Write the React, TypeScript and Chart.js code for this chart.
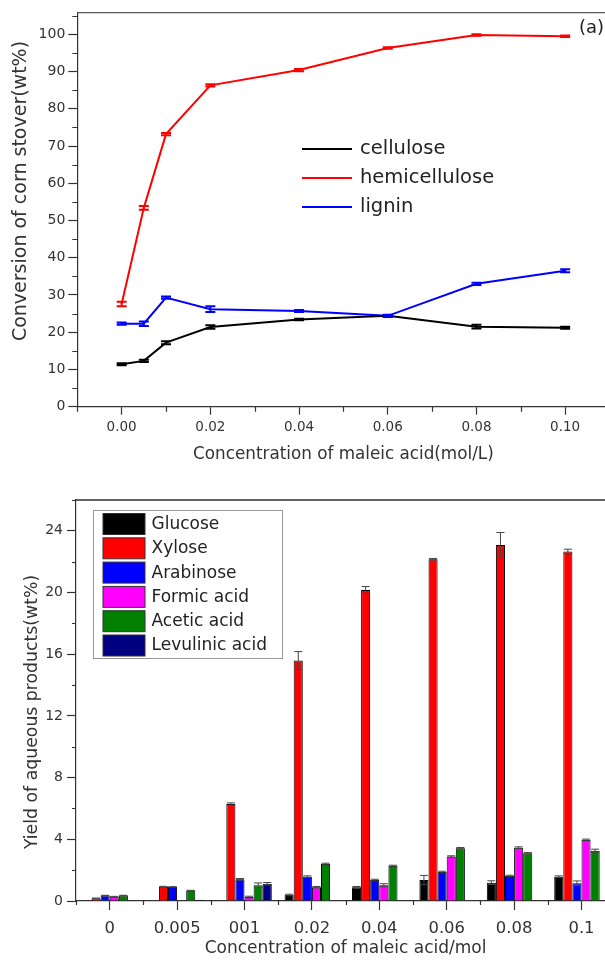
import React, { useEffect, useRef } from 'react';
import { Chart, registerables } from 'chart.js';

Chart.register(...registerables);

// ---------- Top chart data (a) ----------
const concentrations = [0, 0.005, 0.01, 0.02, 0.04, 0.06, 0.08, 0.1];
const cellulose = [11.4, 12.3, 17.2, 21.4, 23.4, 24.4, 21.5, 21.2];
const celluloseErr = [0.3, 0.3, 0.4, 0.5, 0.2, 0.2, 0.5, 0.3];
const hemicellulose = [27.6, 53.4, 73.2, 86.3, 90.4, 96.3, 99.8, 99.5];
const hemicelluloseErr = [0.6, 0.5, 0.3, 0.3, 0.3, 0.2, 0.2, 0.2];
const lignin = [22.3, 22.3, 29.3, 26.2, 25.7, 24.4, 33.0, 36.5];
const ligninErr = [0.3, 0.6, 0.3, 0.8, 0.3, 0.3, 0.3, 0.4];
const topSeriesNames = ['cellulose', 'hemicellulose', 'lignin'];
const topXTicks = [0, 0.02, 0.04, 0.06, 0.08, 0.1];
const topXMinor = [-0.01, 0.01, 0.03, 0.05, 0.07, 0.09, 0.11];
const topYTicks = [0, 10, 20, 30, 40, 50, 60, 70, 80, 90, 100];
const topYMinor = [5, 15, 25, 35, 45, 55, 65, 75, 85, 95, 105];
const topYTitle = 'Conversion of corn stover(wt%)';
const topXTitle = 'Concentration of maleic acid(mol/L)';

// ---------- Bottom chart data ----------
const categories = ['0', '0.005', '001', '0.02', '0.04', '0.06', '0.08', '0.1'];
const productNames = ['Glucose', 'Xylose', 'Arabinose', 'Formic acid', 'Acetic acid', 'Levulinic acid'];
const glucose = [0, 0, 0, 0.39, 0.89, 1.36, 1.19, 1.58];
const xylose = [0.17, 0.93, 6.29, 15.59, 20.17, 22.16, 23.09, 22.66];
const arabinose = [0.35, 0.91, 1.41, 1.58, 1.36, 1.88, 1.62, 1.15];
const formicAcid = [0.28, 0, 0.26, 0.89, 1.02, 2.88, 3.46, 3.96];
const aceticAcid = [0.35, 0.67, 1.02, 2.4, 2.27, 3.42, 3.09, 3.26];
const levulinicAcid = [0, 0.08, 1.12, 0, 0, 0, 0, 0];
const glucoseErr = [0, 0, 0, 0.05, 0.05, 0.3, 0.12, 0.05];
const xyloseErr = [0.02, 0.02, 0.07, 0.58, 0.22, 0.05, 0.8, 0.15];
const arabinoseErr = [0.02, 0.02, 0.05, 0.05, 0.05, 0.05, 0.05, 0.15];
const formicErr = [0.02, 0, 0.05, 0.05, 0.1, 0.05, 0.05, 0.05];
const aceticErr = [0.02, 0.02, 0.15, 0.05, 0.05, 0.05, 0.05, 0.1];
const levulinicErr = [0, 0, 0.08, 0, 0, 0, 0, 0];
const bottomYTicks = [0, 4, 8, 12, 16, 20, 24];
const bottomYMinor = [2, 6, 10, 14, 18, 22, 26];
const bottomYTitle = 'Yield of aqueous products(wt%)';
const bottomXTitle = 'Concentration of maleic acid/mol';

const FONT = "'DejaVu Sans', sans-serif";
const AXIS = '#333333';
const TEXT = '#333333';

const topColors = ['#000000', '#ff0000', '#0000ff'];
const productColors = ['#000000', '#ff0000', '#0000ff', '#ff00ff', '#008000', '#000080'];

function drawMinorTicks(ctx: CanvasRenderingContext2D, chart: any, xVals: number[] | null, yVals: number[], len: number, categoryBoundaries: boolean) {
  const xs = chart.scales.x;
  const ys = chart.scales.y;
  const area = chart.chartArea;
  ctx.save();
  ctx.strokeStyle = AXIS;
  ctx.lineWidth = 1.2;
  ctx.beginPath();
  yVals.forEach((v) => {
    const py = Math.round(ys.getPixelForValue(v)) + 0.5;
    ctx.moveTo(area.left, py);
    ctx.lineTo(area.left - len, py);
  });
  const xv: number[] = [];
  if (categoryBoundaries) {
    for (let i = 0; i <= categories.length; i++) xv.push(xs.getPixelForValue(i - 0.5));
  } else if (xVals) {
    xVals.forEach((v) => xv.push(xs.getPixelForValue(v)));
  }
  xv.forEach((px) => {
    const p = Math.round(px) + 0.5;
    ctx.moveTo(p, area.bottom);
    ctx.lineTo(p, area.bottom + len);
  });
  ctx.stroke();
  ctx.restore();
}

function drawVerticalTitle(ctx: CanvasRenderingContext2D, text: string, cx: number, cy: number, size: number) {
  ctx.save();
  ctx.translate(cx, cy);
  ctx.rotate(-Math.PI / 2);
  ctx.font = `${size}px ${FONT}`;
  ctx.fillStyle = TEXT;
  ctx.textAlign = 'center';
  ctx.textBaseline = 'middle';
  ctx.fillText(text, 0, 0);
  ctx.restore();
}

export default function App() {
  const topRef = useRef<HTMLCanvasElement>(null);
  const botRef = useRef<HTMLCanvasElement>(null);

  useEffect(() => {
    const topValues = [cellulose, hemicellulose, lignin];
    const topErrs = [celluloseErr, hemicelluloseErr, ligninErr];

    const topPlugin = {
      id: 'topExtras',
      afterDatasetsDraw(chart: any) {
        const ctx: CanvasRenderingContext2D = chart.ctx;
        const xs = chart.scales.x;
        const ys = chart.scales.y;
        const area = chart.chartArea;
        // error bars
        topValues.forEach((vals, i) => {
          ctx.save();
          ctx.strokeStyle = topColors[i];
          ctx.lineWidth = 2;
          ctx.beginPath();
          vals.forEach((v, j) => {
            const e = topErrs[i][j];
            const px = xs.getPixelForValue(concentrations[j]);
            const y1 = ys.getPixelForValue(v + e);
            const y2 = ys.getPixelForValue(v - e);
            ctx.moveTo(px, y1);
            ctx.lineTo(px, y2);
            ctx.moveTo(px - 5, y1);
            ctx.lineTo(px + 5, y1);
            ctx.moveTo(px - 5, y2);
            ctx.lineTo(px + 5, y2);
          });
          ctx.stroke();
          ctx.restore();
        });
        // frame (top and right)
        ctx.save();
        ctx.strokeStyle = '#555555';
        ctx.lineWidth = 1.2;
        ctx.beginPath();
        ctx.moveTo(area.left, area.top);
        ctx.lineTo(area.right, area.top);
        ctx.lineTo(area.right, area.bottom);
        ctx.stroke();
        ctx.restore();
        drawMinorTicks(ctx, chart, topXMinor, topYMinor, 5, false);
        drawVerticalTitle(ctx, topYTitle, 21, 191, 19);
        // legend
        ctx.save();
        ctx.font = `19.5px ${FONT}`;
        ctx.textBaseline = 'middle';
        ctx.textAlign = 'left';
        const ly = [149, 178, 207];
        topSeriesNames.forEach((name, i) => {
          ctx.strokeStyle = topColors[i];
          ctx.lineWidth = 2;
          ctx.beginPath();
          ctx.moveTo(302, ly[i]);
          ctx.lineTo(352, ly[i]);
          ctx.stroke();
          ctx.fillStyle = '#222222';
          ctx.fillText(name, 360, ly[i]);
        });
        ctx.font = `18px ${FONT}`;
        ctx.fillText('(a)', 579, 28);
        ctx.restore();
      },
    };

    const c1 = new Chart(topRef.current as HTMLCanvasElement, {
      type: 'line',
      data: {
        datasets: topSeriesNames.map((name, i) => ({
          label: name,
          data: concentrations.map((x, j) => ({ x, y: topValues[i][j] })),
          borderColor: topColors[i],
          backgroundColor: topColors[i],
          borderWidth: 2,
          pointRadius: 0,
          tension: 0,
          fill: false,
        })),
      },
      options: {
        animation: false,
        responsive: false,
        devicePixelRatio: 1,
        layout: { padding: { left: 0, top: 12.7, right: 30.5, bottom: 0 } },
        plugins: { legend: { display: false }, tooltip: { enabled: false } },
        scales: {
          x: {
            type: 'linear',
            min: -0.01,
            max: 0.11,
            afterFit: (s: any) => { s.height = 63.3; },
            afterBuildTicks: (s: any) => { s.ticks = topXTicks.map((v) => ({ value: v })); },
            grid: { drawOnChartArea: false, drawTicks: true, tickLength: 8, tickColor: AXIS, tickWidth: 1.2 },
            border: { color: AXIS, width: 1.2 },
            ticks: {
              font: { family: FONT, size: 13.5 },
              color: TEXT,
              padding: 5,
              maxRotation: 0,
              autoSkip: false,
              callback: (v: any) => Number(v).toFixed(2),
            },
            title: {
              display: true,
              text: topXTitle,
              font: { family: FONT, size: 16.8 },
              color: TEXT,
              padding: { top: 0, bottom: 5 },
            },
          },
          y: {
            min: 0,
            max: 105.8,
            afterFit: (s: any) => { s.width = 77.3; },
            afterBuildTicks: (s: any) => { s.ticks = topYTicks.map((v) => ({ value: v })); },
            grid: { drawOnChartArea: false, drawTicks: true, tickLength: 9, tickColor: AXIS, tickWidth: 1.2 },
            border: { color: AXIS, width: 1.2 },
            ticks: { font: { family: FONT, size: 14 }, color: TEXT, padding: 3 },
            title: { display: false, text: topYTitle },
          },
        },
      },
      plugins: [topPlugin],
    } as any);

    const productValues = [glucose, xylose, arabinose, formicAcid, aceticAcid, levulinicAcid];
    const productErrs = [glucoseErr, xyloseErr, arabinoseErr, formicErr, aceticErr, levulinicErr];

    const botPlugin = {
      id: 'bottomExtras',
      afterDatasetsDraw(chart: any) {
        const ctx: CanvasRenderingContext2D = chart.ctx;
        const ys = chart.scales.y;
        const area = chart.chartArea;
        // error bars
        ctx.save();
        ctx.strokeStyle = '#444444';
        ctx.lineWidth = 1;
        ctx.beginPath();
        productValues.forEach((vals, i) => {
          const meta = chart.getDatasetMeta(i);
          vals.forEach((v, j) => {
            const e = productErrs[i][j];
            if (!e || !v) return;
            const px = meta.data[j].x;
            const y1 = ys.getPixelForValue(v + e);
            const y2 = ys.getPixelForValue(v - e);
            ctx.moveTo(px, y1);
            ctx.lineTo(px, y2);
            ctx.moveTo(px - 4, y1);
            ctx.lineTo(px + 4, y1);
            ctx.moveTo(px - 4, y2);
            ctx.lineTo(px + 4, y2);
          });
        });
        ctx.stroke();
        ctx.restore();
        // frame
        ctx.save();
        ctx.strokeStyle = '#333333';
        ctx.lineWidth = 1.5;
        ctx.beginPath();
        ctx.moveTo(area.left, area.top);
        ctx.lineTo(area.right, area.top);
        ctx.lineTo(area.right, area.bottom);
        ctx.stroke();
        ctx.restore();
        drawMinorTicks(ctx, chart, null, bottomYMinor, 4, true);
        drawVerticalTitle(ctx, bottomYTitle, 33, 242, 17.3);
        // legend
        ctx.save();
        ctx.fillStyle = '#ffffff';
        ctx.fillRect(93.5, 40.5, 189, 148);
        ctx.strokeStyle = '#999999';
        ctx.lineWidth = 1;
        ctx.strokeRect(93.5, 40.5, 189, 148);
        ctx.font = `17px ${FONT}`;
        ctx.textBaseline = 'middle';
        ctx.textAlign = 'left';
        productNames.forEach((name, i) => {
          const top = 43.5 + i * 24.3;
          ctx.fillStyle = productColors[i];
          ctx.fillRect(103, top, 42, 21);
          ctx.strokeStyle = '#333333';
          ctx.strokeRect(103, top, 42, 21);
          ctx.fillStyle = '#222222';
          ctx.fillText(name, 151.5, top + 11);
        });
        ctx.restore();
      },
    };

    const c2 = new Chart(botRef.current as HTMLCanvasElement, {
      type: 'bar',
      data: {
        labels: categories,
        datasets: productNames.map((name, i) => ({
          label: name,
          data: productValues[i],
          backgroundColor: productColors[i],
          borderColor: '#000000',
          borderWidth: 1,
          categoryPercentage: 0.81,
          barPercentage: 1.0,
        })),
      },
      options: {
        animation: false,
        responsive: false,
        devicePixelRatio: 1,
        layout: { padding: { left: 0, top: 30, right: 24.8, bottom: 0 } },
        plugins: { legend: { display: false }, tooltip: { enabled: false } },
        scales: {
          x: {
            type: 'category',
            offset: true,
            afterFit: (s: any) => { s.height = 60; },
            grid: { offset: false, drawOnChartArea: false, drawTicks: true, tickLength: 9, tickColor: AXIS, tickWidth: 1.2 },
            border: { color: AXIS, width: 1.2 },
            ticks: { font: { family: FONT, size: 16.4 }, color: TEXT, padding: 9, maxRotation: 0, autoSkip: false },
            title: {
              display: true,
              text: bottomXTitle,
              font: { family: FONT, size: 17 },
              color: TEXT,
              padding: { top: 0, bottom: 2 },
            },
          },
          y: {
            min: 0,
            max: 26,
            afterFit: (s: any) => { s.width = 76; },
            afterBuildTicks: (s: any) => { s.ticks = bottomYTicks.map((v) => ({ value: v })); },
            grid: { drawOnChartArea: false, drawTicks: true, tickLength: 9, tickColor: AXIS, tickWidth: 1.2 },
            border: { color: AXIS, width: 1.2 },
            ticks: { font: { family: FONT, size: 14 }, color: TEXT, padding: 4 },
            title: { display: false, text: bottomYTitle },
          },
        },
      },
      plugins: [botPlugin],
    } as any);

    return () => {
      c1.destroy();
      c2.destroy();
    };
  }, []);

  return (
    <div style={{ position: 'fixed', left: 0, top: 0, width: 605, height: 961, overflow: 'hidden', background: '#ffffff' }}>
      <div style={{ position: 'absolute', left: 0, top: 0, width: 640, height: 470 }}>
        <canvas ref={topRef} width={640} height={470} style={{ display: 'block' }} />
      </div>
      <div style={{ position: 'absolute', left: 0, top: 470, width: 640, height: 491 }}>
        <canvas ref={botRef} width={640} height={491} style={{ display: 'block' }} />
      </div>
    </div>
  );
}
